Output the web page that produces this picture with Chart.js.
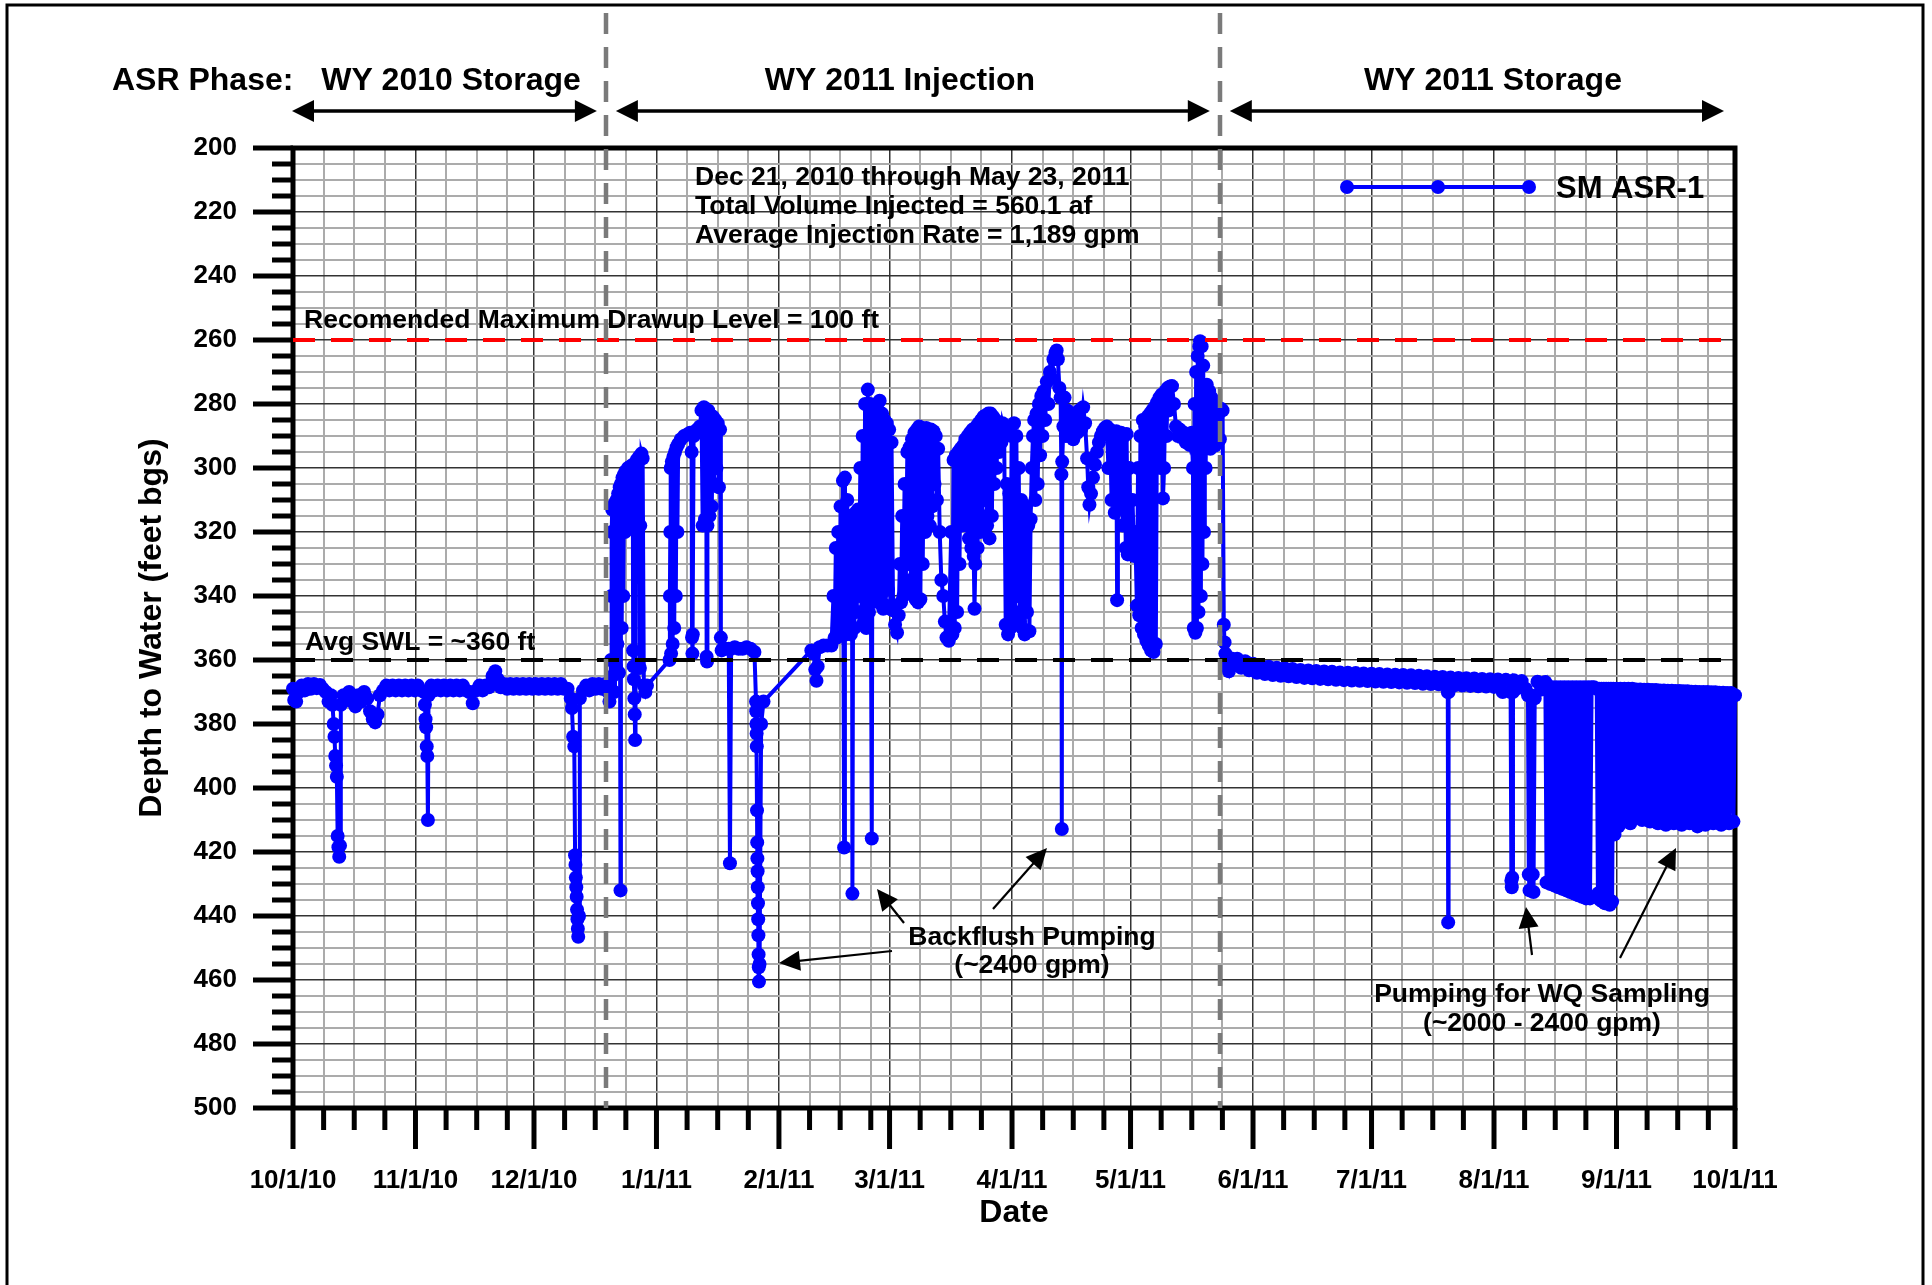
<!DOCTYPE html>
<html>
<head>
<meta charset="utf-8">
<style>
  html, body { margin: 0; padding: 0; background: #fff; }
  canvas { display: block; }
</style>
<script src="https://cdn.jsdelivr.net/npm/chart.js@4.4.1/dist/chart.umd.min.js"></script>
</head>
<body>
<canvas id="myChart" width="1932" height="1285"></canvas>
<script>

// eje x: dias desde 10/1/10
const monthStartDays = [0, 31, 61, 92, 123, 151, 182, 212, 243, 273, 304, 335, 365];
const monthLabels = ['10/1/10', '11/1/10', '12/1/10', '1/1/11', '2/1/11', '3/1/11', '4/1/11',
  '5/1/11', '6/1/11', '7/1/11', '8/1/11', '9/1/11', '10/1/11'];
const minorStepDays = 7.75;

const depthMin = 200;
const depthMax = 500;
const depthMajorStep = 20;
const depthMinorStep = 5;

const maxDrawupDepth = 260;
const avgSwlDepth = 360;
const phaseBreakDays = [79.2, 234.6];
const phaseNames = ['WY 2010 Storage', 'WY 2011 Injection', 'WY 2011 Storage'];

// [dia, profundidad ft bgs]
const storage2010 = [
  [0, 369], [0.3, 372.5], [0.8, 373], [1.5, 370], [2.2, 368], [3, 369.5], [3.8, 367.5], [4.5, 369],
  [5.3, 367.5], [6, 368.8], [6.8, 367.8], [7.5, 369], [8.3, 370], [9, 373], [9.6, 371], [10, 374],
  [10.3, 380], [10.5, 384], [10.7, 390], [10.9, 393], [11.1, 396.5], [11.3, 415], [11.5, 418.5],
  [11.7, 421.5], [11.9, 418], [12.1, 374], [12.8, 371], [13.5, 372.5], [14.2, 370], [15, 373],
  [15.8, 374.5], [16.5, 371], [17.2, 373], [18, 370], [18.8, 372], [19.5, 376], [20.2, 378.5],
  [20.8, 379.5], [21.4, 377], [22, 371], [22.8, 369.5], [23.6, 368], [24.4, 369.5], [25.2, 368],
  [26, 369.5], [26.8, 368], [27.6, 369.5], [28.4, 368], [29.2, 369.5], [30, 368], [30.8, 369.5],
  [31.6, 368], [32.4, 369.5], [33.2, 370], [33.4, 374], [33.55, 378.5], [33.7, 381], [33.85, 387],
  [34, 390], [34.15, 410], [34.3, 371], [35, 368], [35.8, 369.5], [36.6, 368], [37.4, 369.5],
  [38.2, 368], [39, 369.5], [39.8, 368], [40.6, 369.5], [41.4, 368], [42.2, 369.5], [43, 368],
  [43.8, 369.5], [44.6, 370], [45.5, 373.5], [46.4, 369.5], [47.2, 368], [48, 369.5], [48.8, 368],
  [49.6, 368.5], [50.5, 365], [51.2, 363.5], [51.8, 366], [52.6, 368.5], [53.4, 367.5], [54.2, 369],
  [55, 367.5], [55.8, 369], [56.6, 367.5], [57.4, 369], [58.2, 367.5], [59, 369], [59.8, 367.5],
  [60.6, 369], [61.4, 367.5], [62.2, 369], [63, 367.5], [63.8, 369], [64.6, 367.5], [65.4, 369],
  [66.2, 367.5], [67, 369], [67.8, 367.5], [68.6, 369], [69.5, 369], [70.3, 372], [70.6, 375],
  [70.9, 384], [71.2, 387], [71.4, 421], [71.5, 424], [71.6, 428], [71.7, 431], [71.8, 434],
  [71.9, 438], [72, 441], [72.1, 444], [72.2, 446.5], [72.4, 440], [72.6, 372], [73.4, 369.5],
  [74.2, 368], [75, 369.5], [75.8, 367.5], [76.6, 369], [77.4, 367.5], [78.2, 369], [79, 367.5],
  [79.5, 368]
];

const injection2011 = [
  [79.8, 370], [80.1, 373], [80.3, 369], [80.5, 360], [80.6, 340], [80.7, 320], [80.8, 313], [80.9, 365],
  [81.1, 312], [81.3, 370], [81.5, 311], [81.7, 362], [81.9, 310], [82.1, 355], [82.3, 308], [82.5, 364],
  [82.7, 306], [82.9, 432], [83.0, 305], [83.2, 350], [83.4, 303], [83.6, 340], [83.8, 302], [84.0, 320],
  [84.2, 301], [84.5, 318], [84.8, 300], [85.1, 319], [85.4, 299.5], [85.7, 317], [86.0, 299], [86.1, 357],
  [86.2, 362], [86.3, 366], [86.4, 372], [86.5, 377], [86.6, 385], [86.7, 318], [87.0, 297.5], [87.3, 316],
  [87.6, 296.5], [87.8, 362.5], [87.9, 318], [88.2, 295.5], [88.5, 297], [88.8, 368], [89.2, 370], [89.6, 368],
  [95.3, 360], [95.4, 340], [95.5, 320], [95.6, 300], [95.7, 358], [95.9, 298], [96.1, 355], [96.3, 296.5],
  [96.5, 350], [96.7, 295], [96.9, 340], [97.1, 293.5], [97.3, 320], [97.5, 292.5], [98.2, 291], [99, 290],
  [99.8, 289.5], [100.5, 289], [100.9, 295], [101.0, 353], [101.1, 358], [101.2, 352], [101.4, 290],
  [101.8, 288.5], [102.3, 288], [103.0, 287], [103.4, 282], [103.7, 318], [104.0, 281], [104.3, 316],
  [104.6, 283], [104.7, 359], [104.8, 360.5], [104.9, 318], [105.1, 282], [105.4, 315], [105.7, 283.5],
  [106.0, 312], [106.3, 284], [106.6, 305], [106.9, 285], [107.2, 300], [107.5, 286], [107.8, 306],
  [108.1, 288], [108.3, 353], [108.5, 357], [108.8, 356.5], [109.5, 356.5], [110.3, 356.5], [110.6, 423.5],
  [110.9, 356.5], [111.8, 356], [112.8, 356.5], [113.8, 356.5], [114.8, 356], [115.8, 356.5], [116.8, 357.5],
  [117.2, 373], [117.25, 376], [117.3, 380], [117.35, 383], [117.4, 387], [117.45, 407], [117.5, 417],
  [117.55, 422], [117.6, 426], [117.65, 431], [117.7, 436], [117.75, 441], [117.8, 446], [117.85, 452],
  [117.9, 456], [117.95, 460.5], [118.1, 455], [118.5, 380], [119.1, 373],
  [131.2, 357], [131.8, 358], [132.2, 363], [132.5, 366.5], [132.8, 362], [133.3, 356], [134.3, 355.5],
  [135.3, 355.5], [136.3, 355.5],
  [136.8, 340], [137.1, 353], [137.4, 325], [137.7, 353], [138.0, 320], [138.3, 352], [138.6, 312],
  [138.9, 350], [139.2, 304], [139.5, 418.6], [139.7, 303], [140.0, 352], [140.3, 310], [140.6, 350],
  [140.9, 315], [141.2, 352], [141.5, 318], [141.6, 433], [141.8, 320], [142.1, 350], [142.4, 314],
  [142.7, 345], [143.0, 313], [143.3, 340],
  [143.6, 300], [143.9, 345], [144.2, 290], [144.5, 348], [144.8, 280], [145.1, 350], [145.5, 275.5],
  [145.8, 345], [146.1, 280], [146.5, 415.8], [146.7, 285], [147.0, 340], [147.3, 282], [147.6, 338],
  [147.9, 280], [148.2, 342], [148.5, 279], [148.8, 340], [149.1, 283], [149.4, 344], [149.7, 285],
  [150.0, 343], [150.3, 286], [150.6, 338], [150.9, 288], [151.2, 344], [151.5, 292],
  [151.9, 344.5], [152.4, 349], [152.9, 351.5], [153.3, 346],
  [153.6, 330], [153.9, 342], [154.2, 315], [154.5, 340], [154.8, 305], [155.1, 338], [155.5, 295],
  [155.8, 330], [156.1, 293.5], [156.4, 335], [156.7, 291], [157.0, 338], [157.3, 289], [157.6, 341],
  [157.9, 288], [158.2, 342], [158.5, 287], [158.8, 341], [159.1, 287.5], [159.4, 330], [159.7, 288],
  [160.0, 320], [160.3, 287.5], [160.6, 315], [160.9, 288], [161.2, 318], [161.5, 288], [161.8, 312],
  [162.1, 288.5], [162.4, 305], [162.7, 290], [163.0, 310], [163.3, 294], [163.7, 320], [164.1, 335],
  [164.6, 340], [165.0, 348], [165.4, 353], [166.0, 354],
  [166.6, 320], [166.9, 352], [167.2, 297.5], [167.5, 350], [167.8, 296], [168.1, 345], [168.4, 295],
  [168.7, 330], [169.0, 294], [169.3, 318], [169.6, 293], [169.9, 315], [170.2, 291], [170.5, 318],
  [170.8, 290], [171.1, 322], [171.4, 289], [171.7, 325], [172.0, 288], [172.3, 327.5], [172.5, 344],
  [172.7, 330], [173.0, 287], [173.3, 325], [173.6, 286], [173.9, 320], [174.2, 285], [174.5, 315],
  [174.8, 284], [175.1, 310], [175.4, 283.5], [175.7, 318], [176.0, 283], [176.3, 322], [176.6, 283],
  [176.9, 315], [177.2, 284], [177.5, 305], [177.8, 285], [178.1, 300], [178.4, 286], [178.7, 295],
  [179.0, 286.5], [179.3, 292], [179.6, 286], [180.0, 288],
  [180.4, 349], [180.7, 305], [181.0, 352], [181.3, 308], [181.6, 350], [181.9, 290], [182.2, 348],
  [182.5, 286], [182.8, 345], [183.1, 290], [183.4, 340], [183.7, 300], [184.0, 348], [184.3, 310],
  [184.6, 350], [184.9, 315], [185.2, 352], [185.5, 312], [185.8, 345], [186.1, 318], [186.4, 351],
  [186.7, 316],
  [187.0, 300], [187.3, 290], [187.6, 285], [187.9, 310], [188.2, 283], [188.5, 305], [188.8, 280],
  [189.1, 296], [189.4, 277.5], [189.7, 290], [190.0, 276], [190.4, 285], [190.8, 273], [191.2, 280],
  [191.6, 270], [192.0, 272], [192.5, 266], [193.0, 264], [193.3, 263.3], [193.6, 266], [194.0, 275],
  [194.3, 278], [194.5, 302], [194.6, 412.8], [194.7, 298], [195.0, 287], [195.3, 278],
  [195.6, 290], [196.0, 282], [196.5, 290], [197.0, 284], [197.5, 291], [198.0, 283], [198.5, 289],
  [199.0, 282], [199.5, 288], [200.0, 281], [200.5, 286], [201.0, 297], [201.3, 306], [201.6, 311.5],
  [202.0, 308], [202.5, 303], [203.0, 299], [203.5, 295], [204.0, 292], [204.5, 290], [205.0, 288.5],
  [205.5, 287.5],
  [206.0, 287], [206.4, 300], [206.8, 288], [207.2, 310], [207.6, 289], [208.0, 314], [208.4, 288.5],
  [208.6, 341.3], [208.8, 290], [209.2, 312], [209.6, 289], [210.0, 318], [210.4, 290], [210.8, 325],
  [211.0, 289.4], [211.3, 327], [211.7, 300], [212.1, 326], [212.5, 310], [212.9, 327.5], [213.2, 320],
  [213.6, 343], [213.9, 300], [214.2, 346], [214.5, 290], [214.8, 350], [215.1, 285], [215.4, 352],
  [215.7, 287], [216.0, 354], [216.3, 284], [216.6, 355.5], [216.9, 283], [217.2, 357], [217.5, 282],
  [217.8, 357.5], [218.1, 281], [218.4, 355], [218.7, 279.5],
  [219.0, 290], [219.3, 278], [219.6, 300], [219.9, 277], [220.2, 309.5], [220.5, 300], [220.8, 276],
  [221.1, 290], [221.4, 275], [221.7, 282], [222.0, 274.5], [222.5, 274.4], [223.0, 280], [223.5, 287],
  [224.0, 290], [224.5, 288], [225.0, 290.5], [225.5, 289], [226.0, 292], [226.5, 290], [227.0, 292.8],
  [227.5, 289],
  [227.8, 300], [228.0, 350], [228.2, 280], [228.4, 351.5], [228.6, 270], [228.8, 350], [229.0, 265],
  [229.2, 345], [229.4, 262], [229.6, 260.4], [229.8, 340], [230.0, 262], [230.2, 330], [230.4, 268],
  [230.6, 320], [230.8, 275], [231.0, 300], [231.3, 274], [231.6, 290], [231.9, 276], [232.2, 294],
  [232.5, 278], [232.8, 292], [233.1, 280], [233.4, 293], [233.7, 282], [234.0, 290], [234.3, 283],
  [234.6, 291], [234.9, 281.5], [235.3, 282]
];

const storage2011 = [
  [235.6, 349], [235.8, 354.5], [236.0, 358], [236.3, 361], [236.9, 363.5], [237.5, 359.5],
  [238, 361.7], [239, 359.6], [240, 362.4], [241, 360.4], [242, 363.2], [243, 361.2], [244, 364],
  [245, 361.8], [246, 364.4], [247, 362.1], [248, 364.7], [249, 362.4], [250, 364.9], [251, 362.6],
  [252, 365.1], [253, 362.8], [254, 365.3], [255, 363.1], [256, 365.6], [257, 363.3], [258, 365.7],
  [259, 363.4], [260, 365.9], [261, 363.6], [262, 366], [263, 363.7], [264, 366.2], [265, 363.9],
  [266, 366.3], [267, 364], [268, 366.4], [269, 364.1], [270, 366.5], [271, 364.2], [272, 366.6],
  [273, 364.3], [274, 366.7], [275, 364.4], [276, 366.8], [277, 364.5], [278, 366.9], [279, 364.6],
  [280, 367], [281, 364.7], [282, 367.1], [283, 364.8], [284, 367.2], [285, 364.9], [286, 367.4],
  [287, 365.1], [288, 367.5], [289, 365.2], [290, 367.6], [291, 365.3], [292, 367.8],
  [292.3, 370], [292.4, 442], [292.5, 370], [293, 365.5], [294, 367.9], [295, 365.6], [296, 368],
  [297, 365.7], [298, 368.1], [299, 365.8], [300, 368.2], [301, 365.9], [302, 368.3], [303, 366],
  [304, 368.4], [305, 366.1], [306.2, 370], [307, 366.2], [308.2, 370], [308.4, 429], [308.5, 431],
  [308.6, 428], [308.8, 370], [309, 366.3], [310, 368.8], [311, 366.6], [312, 369], [312.6, 371],
  [312.8, 427], [313.0, 432], [313.3, 371], [313.8, 427], [314.0, 432.5], [314.3, 372], [315, 366.8],
  [316, 369.2], [317.0, 366.9],
  [317.3, 429.5], [317.8, 368.5], [318.3, 430], [318.8, 368.5], [319.3, 430.5], [319.8, 368.5],
  [320.3, 431], [320.8, 368.5], [321.3, 431.5], [321.8, 368.5], [322.3, 432], [322.8, 368.5],
  [323.3, 432.5], [323.8, 368.5], [324.3, 433], [324.8, 368.5], [325.3, 433.5], [325.8, 368.5],
  [326.3, 434], [326.8, 368.5], [327.3, 434.5], [327.8, 368.5], [328.3, 434.5], [328.7, 368.5],
  [329.3, 368.5],
  [330.0, 369], [330.3, 433], [330.6, 369], [330.9, 435], [331.2, 369], [331.5, 435.5], [331.8, 369],
  [332.1, 436], [332.4, 369], [332.7, 436], [333.0, 369], [333.3, 436.5], [333.6, 369], [333.9, 435.5],
  [334.2, 369],
  [334.5, 414.5], [335.0, 369], [335.5, 412], [336.0, 369], [336.5, 410], [337.0, 369], [337.5, 407.5],
  [338.0, 369], [338.5, 411], [339.0, 369], [339.5, 406], [340.0, 369.2], [340.5, 409], [341.0, 369.2],
  [341.5, 410], [342.0, 369.3], [342.5, 408.5], [343.0, 369.3], [343.5, 410.5], [344.0, 369.4],
  [344.5, 409], [345.0, 369.4], [345.5, 411], [346.0, 369.5], [346.5, 410], [347.0, 369.5],
  [347.5, 411.5], [348.0, 369.6], [348.5, 410], [349.0, 369.6], [349.5, 411], [350.0, 369.7],
  [350.5, 410.5], [351.0, 369.7], [351.5, 411.5], [352.0, 369.8], [352.5, 410], [353.0, 369.8],
  [353.5, 411], [354.0, 369.9], [354.5, 410.5], [355.0, 369.9], [355.5, 412], [356.0, 370],
  [356.5, 410.5], [357.0, 370], [357.5, 411.5], [358.0, 370], [358.5, 410], [359.0, 370.1],
  [359.5, 411], [360.0, 370.1], [360.5, 410.5], [361.0, 370.2], [361.5, 411.5], [362.0, 370.2],
  [362.5, 410], [363.0, 370.3], [363.5, 411], [364.0, 370.3], [364.6, 410.5], [365.0, 371]
];

const FONT = '"Liberation Sans", Arial, sans-serif';
Chart.defaults.font.family = FONT;
Chart.defaults.color = '#000';

const xTicks = [];
monthStartDays.forEach((d, i) => {
  xTicks.push(d);
  if (i < monthStartDays.length - 1) {
    for (let k = 1; k <= 3; k++) xTicks.push(d + k * minorStepDays);
  }
});
const yTicks = [];
for (let v = depthMin; v <= depthMax; v += depthMinorStep) yTicks.push(v);

const isMajorX = (v) => monthStartDays.includes(v);
const isMajorY = (v) => v % depthMajorStep === 0;

const waterLevel = [...storage2010, ...injection2011, ...storage2011].map(([d, v]) => ({ x: d, y: v }));

function arrowHead(ctx, tx, ty, fx, fy, len, half) {
  const a = Math.atan2(ty - fy, tx - fx);
  const bx = tx - len * Math.cos(a), by = ty - len * Math.sin(a);
  ctx.beginPath();
  ctx.moveTo(tx, ty);
  ctx.lineTo(bx + half * Math.sin(a), by - half * Math.cos(a));
  ctx.lineTo(bx - half * Math.sin(a), by + half * Math.cos(a));
  ctx.closePath();
  ctx.fill();
}

function pointer(ctx, fx, fy, tx, ty) {
  const a = Math.atan2(ty - fy, tx - fx);
  ctx.lineWidth = 2.2;
  ctx.beginPath();
  ctx.moveTo(fx, fy);
  ctx.lineTo(tx - 15 * Math.cos(a), ty - 15 * Math.sin(a));
  ctx.stroke();
  arrowHead(ctx, tx, ty, fx, fy, 21, 10);
}

function doubleArrow(ctx, x1, x2, y) {
  ctx.lineWidth = 3.5;
  ctx.beginPath();
  ctx.moveTo(x1 + 10, y);
  ctx.lineTo(x2 - 10, y);
  ctx.stroke();
  arrowHead(ctx, x1, y, x2, y, 22, 11);
  arrowHead(ctx, x2, y, x1, y, 22, 11);
}

const decor = {
  id: 'decor',
  beforeDatasetsDraw(chart) {
    const { ctx, chartArea: a } = chart;
    const xs = chart.scales.x, ys = chart.scales.y;
    ctx.save();
    ctx.strokeStyle = '#000';
    ctx.lineWidth = 5;
    ctx.strokeRect(a.left, a.top, a.right - a.left, a.bottom - a.top);
    ys.ticks.forEach(t => {
      const py = ys.getPixelForValue(t.value);
      const len = isMajorY(t.value) ? 40 : 21;
      ctx.beginPath();
      ctx.moveTo(a.left - len, py);
      ctx.lineTo(a.left, py);
      ctx.stroke();
    });
    xs.ticks.forEach(t => {
      const px = xs.getPixelForValue(t.value);
      const len = isMajorX(t.value) ? 41 : 22;
      ctx.beginPath();
      ctx.moveTo(px, a.bottom);
      ctx.lineTo(px, a.bottom + len);
      ctx.stroke();
    });
    ctx.restore();
  },
  afterDatasetsDraw(chart) {
    const { ctx, chartArea: a } = chart;
    const xs = chart.scales.x;
    ctx.save();

    // lineas de fase
    ctx.strokeStyle = '#7a7a7a';
    ctx.lineWidth = 4.5;
    ctx.setLineDash([21, 13]);
    phaseBreakDays.forEach(d => {
      const px = Math.round(xs.getPixelForValue(d));
      ctx.beginPath();
      ctx.moveTo(px, 13);
      ctx.lineTo(px, a.bottom);
      ctx.stroke();
    });
    ctx.setLineDash([]);

    ctx.fillStyle = '#000';
    ctx.strokeStyle = '#000';
    ctx.font = 'bold 32px ' + FONT;
    ctx.textAlign = 'left';
    ctx.fillText('ASR Phase:', 112, 90);
    ctx.textAlign = 'center';
    ctx.fillText(phaseNames[0], 451, 90);
    ctx.fillText(phaseNames[1], 900, 90);
    ctx.fillText(phaseNames[2], 1493, 90);

    const b1 = xs.getPixelForValue(phaseBreakDays[0]);
    const b2 = xs.getPixelForValue(phaseBreakDays[1]);
    doubleArrow(ctx, a.left - 1, b1 - 9, 111);
    doubleArrow(ctx, b1 + 10, b2 - 10, 111);
    doubleArrow(ctx, b2 + 10, a.right - 11, 111);

    ctx.font = 'bold 26.5px ' + FONT;
    ctx.textAlign = 'left';
    ctx.fillText('Recomended Maximum Drawup Level = 100 ft', 304, 328);
    ctx.fillText('Avg SWL = ~360 ft', 305, 650);
    ctx.fillText('Dec 21, 2010 through May 23, 2011', 695, 185);
    ctx.fillText('Total Volume Injected = 560.1 af', 695, 214);
    ctx.fillText('Average Injection Rate = 1,189 gpm', 695, 243);

    ctx.textAlign = 'center';
    ctx.fillText('Backflush Pumping', 1032, 945);
    ctx.fillText('(~2400 gpm)', 1032, 973);
    ctx.fillText('Pumping for WQ Sampling', 1542, 1002);
    ctx.fillText('(~2000 - 2400 gpm)', 1542, 1031);

    pointer(ctx, 892, 951, 779, 963);
    pointer(ctx, 904, 923, 877, 889);
    pointer(ctx, 993, 909, 1047, 848);
    pointer(ctx, 1532, 955, 1526, 907);
    pointer(ctx, 1620, 958, 1676, 848);

    // leyenda
    ctx.strokeStyle = '#0000ff';
    ctx.fillStyle = '#0000ff';
    ctx.lineWidth = 4;
    ctx.beginPath();
    ctx.moveTo(1347, 187);
    ctx.lineTo(1529, 187);
    ctx.stroke();
    [1347, 1438, 1529].forEach(x => {
      ctx.beginPath();
      ctx.arc(x, 187, 7, 0, Math.PI * 2);
      ctx.fill();
    });
    ctx.fillStyle = '#000';
    ctx.font = 'bold 31px ' + FONT;
    ctx.textAlign = 'left';
    ctx.fillText('SM ASR-1', 1556, 198);

    // marco exterior
    ctx.strokeStyle = '#000';
    ctx.lineWidth = 3;
    ctx.beginPath();
    ctx.moveTo(7, 1290);
    ctx.lineTo(7, 5);
    ctx.lineTo(1923, 5);
    ctx.lineTo(1923, 1290);
    ctx.stroke();
    ctx.restore();
  }
};

const ctx = document.querySelector('#myChart');

new Chart(ctx, {
  type: 'scatter',
  data: {
    datasets: [
      {
        label: 'Max drawup',
        data: [{ x: 0, y: maxDrawupDepth }, { x: 365, y: maxDrawupDepth }],
        showLine: true,
        borderColor: '#ff0000',
        borderWidth: 4,
        borderDash: [22, 16],
        pointRadius: 0,
        order: 1
      },
      {
        label: 'Avg SWL',
        data: [{ x: 0, y: avgSwlDepth }, { x: 365, y: avgSwlDepth }],
        showLine: true,
        borderColor: '#000',
        borderWidth: 4,
        borderDash: [22, 16],
        pointRadius: 0,
        order: 2
      },
      {
        label: 'SM ASR-1',
        data: waterLevel,
        showLine: true,
        borderColor: '#0000ff',
        backgroundColor: '#0000ff',
        borderWidth: 4,
        pointRadius: 7,
        pointBorderWidth: 0,
        pointBackgroundColor: '#0000ff',
        tension: 0,
        clip: false,
        order: 3
      }
    ]
  },
  options: {
    responsive: false,
    animation: false,
    devicePixelRatio: 1,
    events: [],
    layout: { padding: { left: 0, top: 148, right: 197, bottom: 0 } },
    plugins: {
      legend: { display: false },
      tooltip: { enabled: false }
    },
    scales: {
      x: {
        type: 'linear',
        min: 0,
        max: 365,
        afterBuildTicks: (scale) => { scale.ticks = xTicks.map(v => ({ value: v })); },
        afterFit: (scale) => { scale.height = 177; },
        ticks: {
          autoSkip: false,
          maxRotation: 0,
          minRotation: 0,
          padding: 57,
          font: { size: 26, weight: 'bold' },
          callback: (v) => {
            const i = monthStartDays.indexOf(v);
            return i >= 0 ? monthLabels[i] : '';
          }
        },
        grid: {
          drawTicks: false,
          color: (c) => (c.tick && isMajorX(c.tick.value)) ? '#333' : '#ababab',
          lineWidth: (c) => (c.tick && isMajorX(c.tick.value)) ? 1.5 : 2
        },
        border: { display: false },
        title: {
          display: true,
          text: 'Date',
          font: { size: 32, weight: 'bold' },
          padding: { top: 0, bottom: 53 }
        }
      },
      y: {
        type: 'linear',
        reverse: true,
        min: depthMin,
        max: depthMax,
        afterBuildTicks: (scale) => { scale.ticks = yTicks.map(v => ({ value: v })); },
        afterFit: (scale) => { scale.width = 293; },
        ticks: {
          autoSkip: false,
          padding: 56,
          font: { size: 26, weight: 'bold' },
          callback: (v) => isMajorY(v) ? String(v) : ''
        },
        grid: {
          drawTicks: false,
          color: (c) => (c.tick && isMajorY(c.tick.value)) ? '#333' : '#ababab',
          lineWidth: (c) => (c.tick && isMajorY(c.tick.value)) ? 1.5 : 2
        },
        border: { display: false },
        title: {
          display: true,
          text: 'Depth to Water (feet bgs)',
          font: { size: 32, weight: 'bold' },
          padding: { top: 133, bottom: 0 }
        }
      }
    }
  },
  plugins: [decor]
});

</script>
</body>
</html>
